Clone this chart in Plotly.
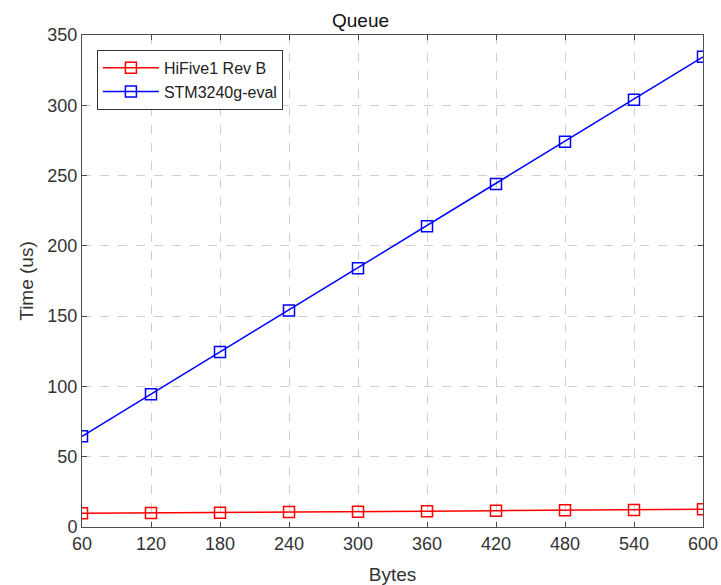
import plotly.graph_objects as go

bytes_x = [60, 120, 180, 240, 300, 360, 420, 480, 540, 600]
hifive = [9.8, 10.0, 10.2, 10.6, 10.8, 11.2, 11.6, 11.9, 12.1, 12.6]
stm = [64.5, 94.5, 124.5, 154.0, 184.0, 214.0, 244.0, 274.0, 304.0, 334.5]
x_ticks = [60, 120, 180, 240, 300, 360, 420, 480, 540, 600]
y_ticks = [0, 50, 100, 150, 200, 250, 300, 350]

fig = go.Figure()
fig.add_trace(go.Scatter(x=bytes_x, y=hifive, mode="lines+markers", name="HiFive1 Rev B",
                         line=dict(color="#ff0000", width=1.5),
                         marker=dict(symbol="square-open", size=11, color="#ff0000", line=dict(width=1.5))))
fig.add_trace(go.Scatter(x=bytes_x, y=stm, mode="lines+markers", name="STM3240g-eval",
                         line=dict(color="#0000ff", width=1.5),
                         marker=dict(symbol="square-open", size=11, color="#0000ff", line=dict(width=1.5))))

axis_common = dict(showline=True, linecolor="#4d4d4d", linewidth=1, mirror="ticks",
                   ticks="inside", ticklen=5, tickcolor="#4d4d4d",
                   showgrid=True, gridcolor="#cfcfcf", griddash="dash", gridwidth=1,
                   zeroline=False, automargin=False,
                   tickfont=dict(size=18, color="#333333"))

W, H = 721, 585
fig.update_layout(
    width=W, height=H,
    margin=dict(l=82, r=18, t=35, b=58),
    paper_bgcolor="white", plot_bgcolor="white",
    font=dict(family="Liberation Sans, Arial, sans-serif", color="#222222"),
    title=dict(text="Queue", x=0.5, xanchor="center", y=1 - 20/H, yanchor="middle",
               font=dict(size=19, color="#111111")),
    xaxis=dict(range=[60, 600], tickvals=x_ticks,
               title=dict(text="Bytes", font=dict(size=19, color="#333333"), standoff=16),
               **axis_common),
    yaxis=dict(range=[0, 350], tickvals=y_ticks,
               title=dict(text="Time (us)", font=dict(size=19, color="#333333"), standoff=8),
               **axis_common),
    legend=dict(x=0.024, y=0.97, xanchor="left", yanchor="top",
                bgcolor="white", bordercolor="#333333", borderwidth=1,
                font=dict(size=16, color="#222222"), tracegroupgap=0, itemwidth=56),
    showlegend=True,
)

fig.write_html("out.html", config={"displayModeBar": False},
               post_script="document.body.style.margin='0';document.body.style.overflow='hidden';")
